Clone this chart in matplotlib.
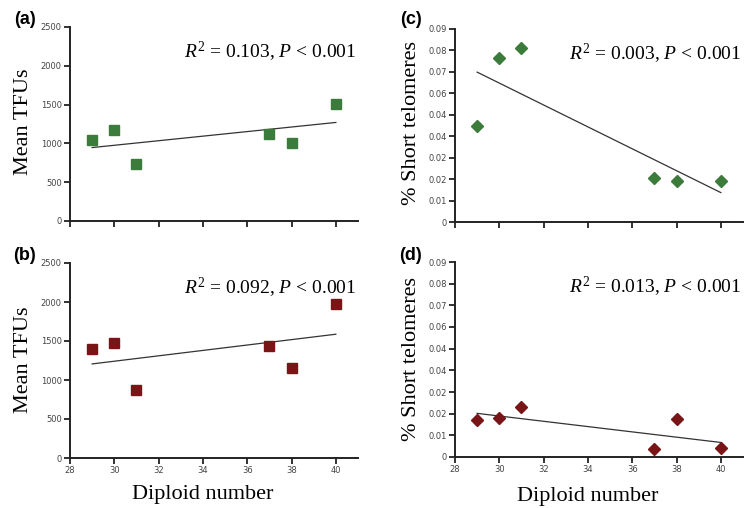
import numpy as np
import matplotlib
matplotlib.use("Agg")
import matplotlib.pyplot as plt

plt.rcParams['mathtext.fontset'] = 'custom'
plt.rcParams['mathtext.rm'] = 'Liberation Serif'
plt.rcParams['mathtext.it'] = 'Liberation Serif:italic'

# data
diploid = [29, 30, 31, 37, 38, 40]
tfu_a = [1040, 1170, 740, 1120, 1010, 1510]
tfu_b = [1400, 1480, 870, 1430, 1160, 1970]
short_c = [0.045, 0.0765, 0.081, 0.0205, 0.019, 0.019]
short_d = [0.017, 0.018, 0.023, 0.0035, 0.0175, 0.004]

stats = ['0.103', '0.092', '0.003', '0.013']
tfu_ticks = [0, 500, 1000, 1500, 2000, 2500]
tel_ticks = [0, 0.01, 0.02, 0.03, 0.04, 0.05, 0.06, 0.07, 0.08, 0.09]
tel_labels = ['0', '0.01', '0.02', '0.02', '0.04', '0.04', '0.06', '0.07', '0.08', '0.09']
x_ticks = [28, 30, 32, 34, 36, 38, 40]

green = '#3b7b3b'
red = '#7a1517'

W, H = 752, 508
fig = plt.figure(figsize=(W/100, H/100), dpi=100)

def px_axes(l, t, r, b):
    return fig.add_axes([l/W, 1-b/H, (r-l)/W, (b-t)/H])

def style(ax, show_x):
    for s in ['top', 'right']:
        ax.spines[s].set_visible(False)
    for s in ['left', 'bottom']:
        ax.spines[s].set_linewidth(1.4)
        ax.spines[s].set_color('#222222')
    ax.tick_params(direction='out', length=4, width=1.3, labelsize=6,
                   labelcolor='#444444', color='#222222', pad=2)
    ax.set_xlim(28, 41)
    ax.set_xticks(x_ticks)
    if not show_x:
        ax.set_xticklabels([])

panels = [
    ('(a)', px_axes(70, 27, 358, 221), tfu_a, 's', green, False),
    ('(b)', px_axes(70, 263, 358, 458), tfu_b, 's', red, True),
    ('(c)', px_axes(455, 29, 743, 222), short_c, 'D', green, False),
    ('(d)', px_axes(455, 262, 743, 457), short_d, 'D', red, True),
]

for i, (lab, ax, y, mk, col, show_x) in enumerate(panels):
    style(ax, show_x)
    ms = 6.8 if mk == 's' else 6
    ax.plot(diploid, y, linestyle='none', marker=mk, markersize=ms,
            color=col, markeredgecolor=col, zorder=3)
    k, b0 = np.polyfit(diploid, y, 1)
    xl = np.array([diploid[0], diploid[-1]])
    ax.plot(xl, k*xl + b0, color='#333333', lw=0.9, zorder=2)
    if mk == 's':
        ax.set_ylim(0, 2500)
        ax.set_yticks(tfu_ticks)
    else:
        ax.set_ylim(0, 0.09)
        ax.set_yticks(tel_ticks)
        ax.set_yticklabels(tel_labels)
    ax.text(0.995, 0.84, r'$R^2$ = ' + stats[i] + r', $P$ < 0.001',
            transform=ax.transAxes, ha='right', va='baseline',
            fontsize=14, family='Liberation Serif')

fig.text(25/W, 1-20/H, '(a)', fontsize=13, fontweight='bold', family='Liberation Sans', ha='center', va='center')
fig.text(25/W, 1-256/H, '(b)', fontsize=13, fontweight='bold', family='Liberation Sans', ha='center', va='center')
fig.text(411/W, 1-20/H, '(c)', fontsize=13, fontweight='bold', family='Liberation Sans', ha='center', va='center')
fig.text(411/W, 1-256/H, '(d)', fontsize=13, fontweight='bold', family='Liberation Sans', ha='center', va='center')

for (x, y, s) in [(24, 122, 'Mean TFUs'), (24, 360, 'Mean TFUs'),
                  (412, 123, '% Short telomeres'), (412, 359, '% Short telomeres')]:
    fig.text(x/W, 1-y/H, s, rotation=90, ha='center', va='center',
             fontsize=16, family='Liberation Serif')

fig.text(203/W, 1-495/H, 'Diploid number', ha='center', va='center', fontsize=16, family='Liberation Serif')
fig.text(588/W, 1-497/H, 'Diploid number', ha='center', va='center', fontsize=16, family='Liberation Serif')

fig.savefig('out.png', dpi=100)
